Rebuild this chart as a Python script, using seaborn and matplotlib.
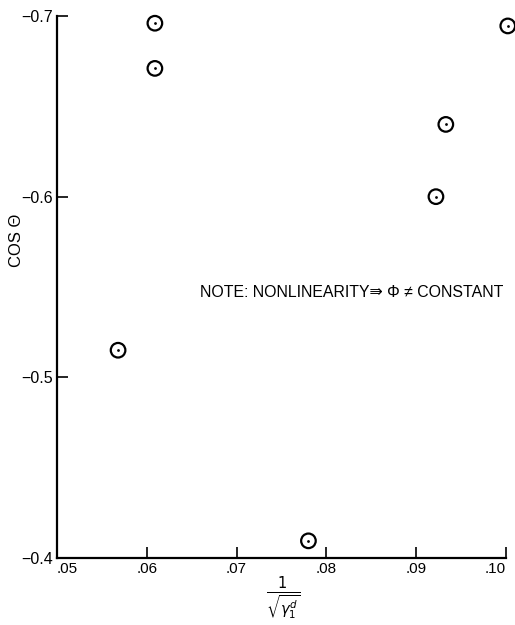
import pandas as pd
import matplotlib
matplotlib.use("Agg")
import matplotlib.pyplot as plt
import seaborn as sns

# values
inv_sqrt_gamma = [0.0609, 0.0609, 0.0568, 0.0780, 0.0922, 0.0933, 0.1002]
cos_theta = [-0.696, -0.671, -0.515, -0.4095, -0.600, -0.640, -0.6945]
x_ticks = [0.05, 0.06, 0.07, 0.08, 0.09, 0.10]
x_tick_labels = [".05", ".06", ".07", ".08", ".09", ".10"]
y_ticks = [-0.4, -0.5, -0.6, -0.7]
y_tick_labels = ["\u22120.4", "\u22120.5", "\u22120.6", "\u22120.7"]

sns.set_style("ticks")
plt.rcParams["font.family"] = ["Liberation Sans", "DejaVu Sans"]
plt.rcParams["text.color"] = "black"
plt.rcParams["axes.labelcolor"] = "black"
plt.rcParams["xtick.color"] = "black"
plt.rcParams["ytick.color"] = "black"

df = pd.DataFrame({"x": inv_sqrt_gamma, "y": cos_theta})

fig = plt.figure(figsize=(5.15, 6.25), dpi=100)
ax = fig.add_axes([0.1107, 0.1072, 0.8718, 0.8672])

# open circle with a dot in the middle
sns.scatterplot(data=df, x="x", y="y", ax=ax, marker="o", s=110,
                facecolors="none", edgecolor="black", linewidth=1.6, clip_on=False)
sns.scatterplot(data=df, x="x", y="y", ax=ax, marker="o", s=4,
                color="black", edgecolor="black", linewidth=0, clip_on=False)

ax.set_xlim(0.05, 0.10)
ax.set_ylim(-0.4, -0.7)
ax.set_xticks(x_ticks)
ax.set_xticklabels(x_tick_labels, fontsize=11)
ax.get_xticklabels()[0].set_horizontalalignment("left")
ax.get_xticklabels()[-1].set_horizontalalignment("right")
ax.set_yticks(y_ticks)
ax.set_yticklabels(y_tick_labels, fontsize=11.5)
ax.tick_params(direction="in", length=8, width=1.2, color="black", pad=3)
sns.despine(ax=ax)
for s in ["left", "bottom"]:
    ax.spines[s].set_linewidth(1.6)
    ax.spines[s].set_color("black")

ax.set_xlabel(r"$\frac{1}{\sqrt{\gamma_{1}^{d}}}$", fontsize=15)
ax.xaxis.set_label_coords(0.503, -0.03)
ax.set_ylabel("COS \u0398", fontsize=12)
ax.yaxis.set_label_coords(-0.073, 0.587)

ax.text(0.0659, -0.5467, "NOTE: NONLINEARITY\u21db \u03a6 \u2260 CONSTANT",
        fontsize=11.4, va="center", ha="left")

fig.savefig("out.png", dpi=100)
